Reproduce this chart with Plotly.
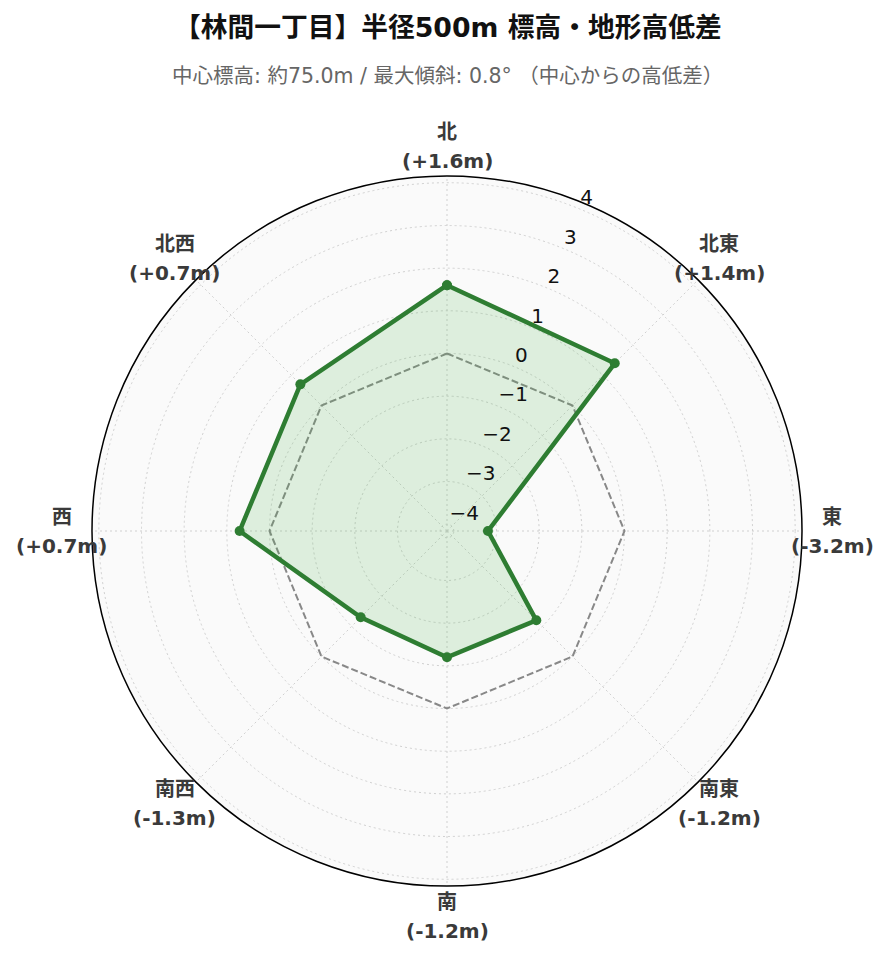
import math
import plotly.graph_objects as go

directions = ["北", "北東", "東", "南東", "南", "南西", "西", "北西"]
diffs = [1.6, 1.4, -3.2, -1.2, -1.2, -1.3, 0.7, 0.7]
radial_ticks = [-4, -3, -2, -1, 0, 1, 2, 3, 4]
title_text = "【林間一丁目】半径500m 標高・地形高低差"
subtitle_text = "中心標高: 約75.0m / 最大傾斜: 0.8° （中心からの高低差）"

n = len(directions)
angles = [360.0 * i / n for i in range(n)]
value_labels = [f"({v:+.1f}m)" for v in diffs]
rmax = max(abs(v) for v in diffs) * 1.3
rlabel_theta = 22.5

theta_closed = angles + [angles[0]]
r_closed = diffs + [diffs[0]]
zero_closed = [0] * len(theta_closed)

FONT = "DejaVu Sans, Noto Sans CJK JP"
GRID = "#d0d0d0"

fig = go.Figure()
fig.add_trace(go.Scatterpolar(
    r=zero_closed, theta=theta_closed, mode="lines",
    line=dict(color="#888888", width=2, dash="7px,3px"),
    hoverinfo="skip", showlegend=False,
))
fig.add_trace(go.Scatterpolar(
    r=r_closed, theta=theta_closed, mode="lines+markers",
    fill="toself", fillcolor="rgba(76,175,80,0.17)",
    line=dict(color="#2e7d32", width=4.5),
    marker=dict(size=10, color="#2e7d32"),
    showlegend=False,
))
# radial tick labels
fig.add_trace(go.Scatterpolar(
    r=radial_ticks, theta=[rlabel_theta] * len(radial_ticks), mode="text",
    text=[str(t).replace("-", "\u2212") for t in radial_ticks],
    textposition="top right",
    textfont=dict(size=20, color="#111111", family=FONT),
    cliponaxis=False, hoverinfo="skip", showlegend=False,
))

# angular labels as annotations just outside the circle (circle radius = 0.5 paper)
label_rad = 0.5 * 385 / 355
annotations = []
for d, vl, a in zip(directions, value_labels, angles):
    ax = 0.5 + label_rad * math.sin(math.radians(a))
    ay = 0.5 + label_rad * math.cos(math.radians(a))
    for txt, shift in ((d, 14.5), (vl, -14.5)):
        annotations.append(dict(
            text=f"<b>{txt}</b>", x=ax, y=ay, xref="paper", yref="paper",
            yshift=shift, showarrow=False, xanchor="center", yanchor="middle",
            font=dict(size=20, color="#3a3a3a", family=FONT)))

annotations += [
    dict(text=f"<b>{title_text}</b>", x=0.5014, y=(878 - 19) / 710,
         xref="paper", yref="paper", showarrow=False,
         xanchor="center", yanchor="middle",
         font=dict(size=26.75, color="#111", family=FONT)),
    dict(text=subtitle_text, x=0.5014, y=(878 - 68) / 710,
         xref="paper", yref="paper", showarrow=False,
         xanchor="center", yanchor="middle",
         font=dict(size=20.5, color="#666", family=FONT)),
]

fig.update_layout(
    width=889, height=962,
    margin=dict(l=84, r=95, t=168, b=84),
    paper_bgcolor="white",
    font=dict(family=FONT, color="#000"),
    polar=dict(
        bgcolor="#fafafa",
        domain=dict(x=[0, 1], y=[0, 1]),
        radialaxis=dict(
            range=[-rmax, rmax], angle=67.5,
            tickvals=radial_ticks, showticklabels=False,
            showline=False, ticks="",
            gridcolor=GRID, griddash="2px,3px", gridwidth=1,
        ),
        angularaxis=dict(
            type="linear", direction="clockwise", rotation=90,
            tickvals=angles, showticklabels=False,
            showline=True, linecolor="black", linewidth=1.5,
            gridcolor=GRID, griddash="2px,3px", gridwidth=1,
            ticks="",
        ),
    ),
    annotations=annotations,
)

fig.write_html("out.html")
